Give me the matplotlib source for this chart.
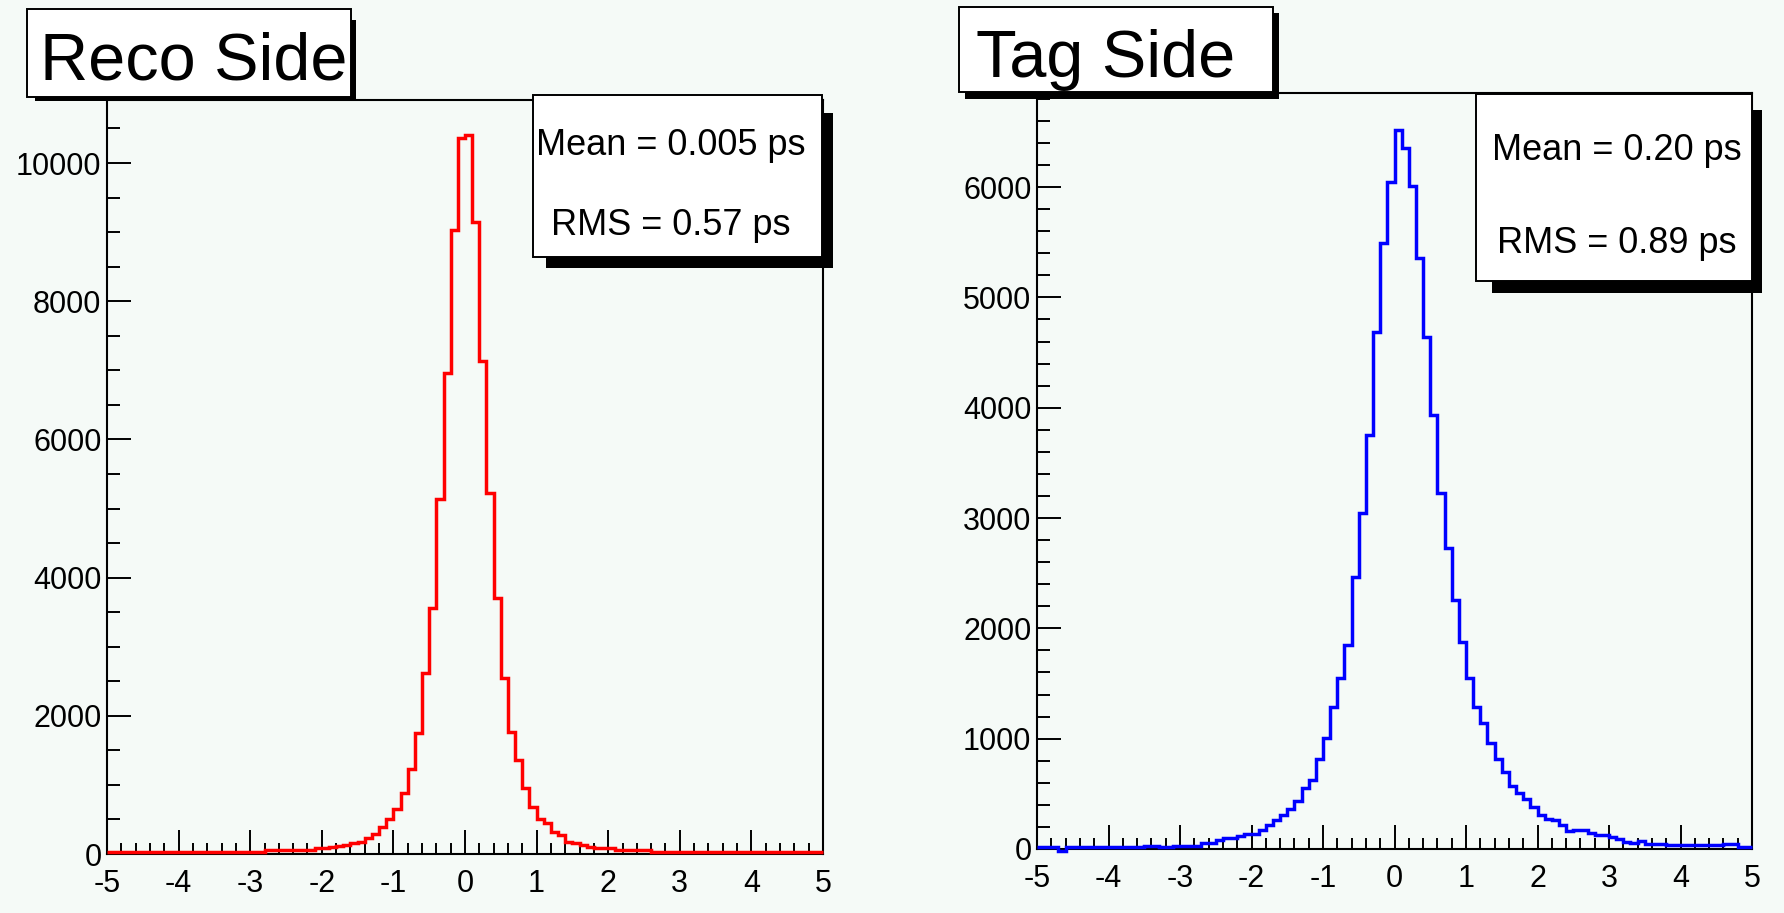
import numpy as np
import matplotlib
matplotlib.use("Agg")
import matplotlib.pyplot as plt
from matplotlib import font_manager
from matplotlib.patches import Rectangle
from matplotlib.ticker import MultipleLocator

# ── Data (100 bins of 0.1 ps between -5 and 5) ───────────────────────
bin_edges = np.round(np.linspace(-5.0, 5.0, 101), 2)

reco_counts = [
    30, 28, 30, 32, 30, 28, 30, 30, 32, 30, 30, 28, 30, 32, 30, 30, 30, 32, 30, 35, 32, 30,
    60, 55, 58, 55, 60, 58, 62,
    90, 92, 95,
    120, 125, 165, 175, 235, 285, 390, 505,
    650, 878, 1225, 1746, 2615, 3556, 5137, 6961, 9030, 10366,
    10400, 9141, 7139, 5218, 3700, 2540, 1770, 1360, 950, 685,
    510, 444, 323, 275, 170, 160, 130, 95, 90, 88,
    88, 60, 58, 60, 55, 58,
    35, 33, 32, 35, 33, 30, 32, 33, 30, 32, 33, 30, 32, 30, 33, 30, 32, 30, 30, 32, 30, 30, 28, 30,
]

tag_counts = [
    15, 15, 15, -15,
    15, 15, 15, 15, 15, 15, 15, 15, 15, 15, 15,
    28, 28, 15, 15, 30, 30, 30, 30,
    51, 51, 82, 97, 97, 118, 136, 136,
    172, 218, 263, 308, 363, 438, 556, 626, 813,
    1003, 1290, 1548, 1850, 2469, 3043, 3753, 4690, 5497, 6050,
    6519, 6352, 6011, 5355, 4645, 3935, 3225, 2726, 2257, 1880,
    1548, 1290, 1140, 958, 813, 701, 570, 505, 450, 385,
    310, 269, 265, 218, 160, 172, 170, 148, 127, 125,
    111, 88, 60, 55, 75, 45, 45, 42,
    35, 35, 35, 35, 35, 35, 35, 35,
    45, 45, 20, 20,
]

titles = ["Reco Side", "Tag Side"]
mean_labels = ["Mean = 0.005 ps", "Mean = 0.20 ps"]
rms_labels = ["RMS = 0.57 ps", "RMS = 0.89 ps"]
y_tops = [10912, 6853]
y_major = [2000, 1000]
y_minor = [500, 200]
colors = ["#ff0000", "#0000ff"]

# ── Figure setup ──────────────────────────────────────────────────────
W, H = 1784, 913
BG = "#f5faf7"
plt.rcParams["font.family"] = ["Liberation Sans", "DejaVu Sans"]

# narrow face for the big titles if the system has it
installed = {f.name for f in font_manager.fontManager.ttflist}
if "Liberation Sans Narrow" in installed:
    TITLE_FONT, TITLE_SIZE = ["Liberation Sans Narrow", "Liberation Sans"], 53
else:
    TITLE_FONT, TITLE_SIZE = ["Liberation Sans", "DejaVu Sans"], 48

fig = plt.figure(figsize=(W / 100, H / 100), dpi=100, facecolor=BG)


def frac(x0, y0, x1, y1):
    """pixel box (top-left origin) -> figure fraction [l, b, w, h]"""
    return [x0 / W, 1 - y1 / H, (x1 - x0) / W, (y1 - y0) / H]


def pave(x0, y0, x1, y1, sx0, sy0, sx1, sy1):
    l, b, w, h = frac(sx0, sy0, sx1, sy1)
    fig.patches.append(Rectangle((l, b), w, h, transform=fig.transFigure,
                                 facecolor="black", edgecolor="none", zorder=5))
    l, b, w, h = frac(x0, y0, x1, y1)
    fig.patches.append(Rectangle((l, b), w, h, transform=fig.transFigure,
                                 facecolor="white", edgecolor="black",
                                 linewidth=1.4, zorder=6))


def put(x, y, s, size, ha="left", family=None):
    kw = {"family": family} if family else {}
    fig.text(x / W, 1 - y / H, s, fontsize=size, ha=ha, va="baseline",
             zorder=7, **kw)


panels = [
    dict(ax=(107, 100, 823, 854), title=(27, 9, 351, 97, 35, 20, 356, 101),
         title_xy=(40, 80), stats=(533, 95, 822, 257, 546, 113, 833, 268),
         stats_x=671, mean_y=155, rms_y=235),
    dict(ax=(1037, 93, 1752, 849), title=(959, 7, 1273, 92, 965, 13, 1279, 99),
         title_xy=(976, 77), stats=(1476, 94, 1752, 281, 1492, 110, 1762, 293),
         stats_x=1617, mean_y=160, rms_y=253),
]
counts = [reco_counts, tag_counts]

for i, p in enumerate(panels):
    ax = fig.add_axes(frac(*p["ax"]))
    ax.set_facecolor(BG)
    ax.stairs(counts[i], bin_edges, baseline=None, color=colors[i],
              linewidth=2.5, clip_on=False, zorder=3)
    ax.set_xlim(-5, 5)
    ax.set_ylim(0, y_tops[i])

    ax.xaxis.set_major_locator(MultipleLocator(1))
    ax.xaxis.set_minor_locator(MultipleLocator(0.2))
    ax.yaxis.set_major_locator(MultipleLocator(y_major[i]))
    ax.yaxis.set_minor_locator(MultipleLocator(y_minor[i]))
    ax.tick_params(which="both", direction="in", top=False, right=False,
                   width=1.4, color="black")
    ax.tick_params(axis="x", which="major", length=17, pad=11, labelsize=22)
    ax.tick_params(axis="x", which="minor", length=8)
    ax.tick_params(axis="y", which="major", length=17, pad=4, labelsize=22)
    ax.tick_params(axis="y", which="minor", length=9)
    ax.set_xticks(np.arange(-5, 6))
    ax.set_xticklabels([str(v) for v in range(-5, 6)])
    for s in ax.spines.values():
        s.set_linewidth(1.5)

    pave(*p["title"])
    put(p["title_xy"][0], p["title_xy"][1], titles[i], TITLE_SIZE,
        family=TITLE_FONT)
    pave(*p["stats"])
    put(p["stats_x"], p["mean_y"], mean_labels[i], 26, ha="center")
    put(p["stats_x"], p["rms_y"], rms_labels[i], 26, ha="center")

fig.savefig("out.png", dpi=100, facecolor=BG)
